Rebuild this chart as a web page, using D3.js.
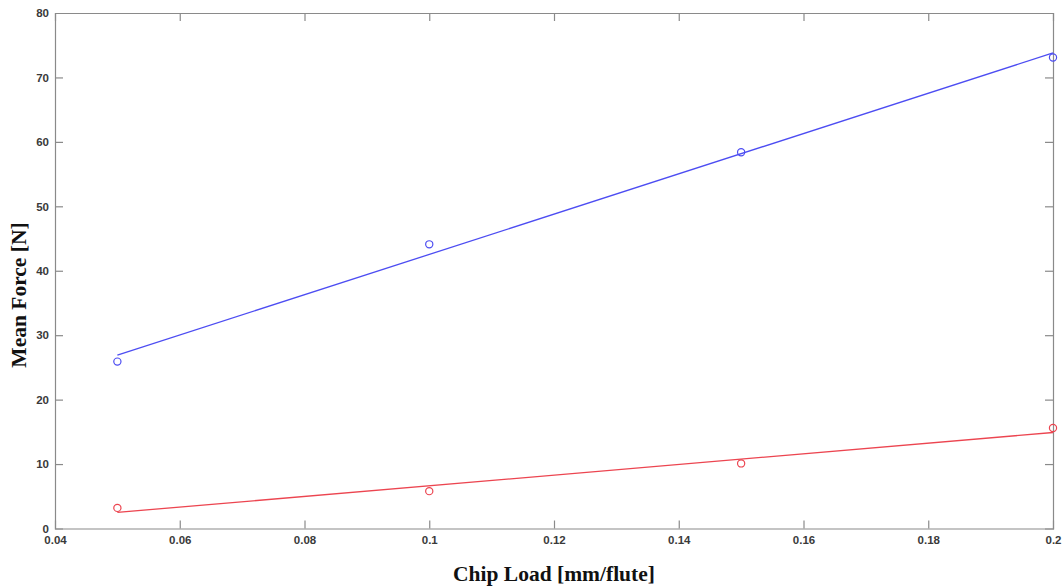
<!DOCTYPE html>
<html>
<head>
<meta charset="utf-8">
<script src="https://cdn.jsdelivr.net/npm/d3@7"></script>
<style>
  html, body { margin: 0; padding: 0; background: #fff; }
  svg { display: block; }
  .tick text { font-family: "Liberation Sans", Arial, sans-serif; font-weight: bold; font-size: 11.5px; fill: #3a3a3a; }
  .title { font-family: "Liberation Serif", "Times New Roman", serif; font-weight: bold; font-size: 21.5px; fill: #111; }
</style>
</head>
<body>
<svg id="chart" width="1063" height="586"></svg>
<script>
// Chip load values (mm/flute)
const chipLoad = [0.05, 0.1, 0.15, 0.2];
// Measured mean force, two force components
const forceBlue = [25.9, 44.1, 58.4, 73.1];
const forceRed = [3.2, 5.8, 10.1, 15.6];
// Linear trend lines (endpoint values at first and last chip load)
const trendX = [0.05, 0.2];
const trendBlue = [26.9, 73.8];
const trendRed = [2.5, 14.9];
// Axis ticks
const xTicks = [0.04, 0.06, 0.08, 0.1, 0.12, 0.14, 0.16, 0.18, 0.2];
const yTicks = [0, 10, 20, 30, 40, 50, 60, 70, 80];

const svg = d3.select("#chart");
const m = { left: 55, right: 10, top: 13, bottom: 57.5 };
const W = 1063, H = 586;
const x = d3.scaleLinear().domain([0.04, 0.2]).range([m.left, W - m.right]);
const y = d3.scaleLinear().domain([0, 80]).range([H - m.bottom, m.top]);

const axisColor = "#8a8a8a";
const tickLen = 8;

// Axes with inward ticks on all four sides
const gx = svg.append("g").attr("transform", `translate(0,${y(0)})`)
  .call(d3.axisBottom(x).tickValues(xTicks).tickSize(-tickLen).tickPadding(5).tickFormat(d => d3.format("~g")(+d.toFixed(2))));
const gxt = svg.append("g").attr("transform", `translate(0,${y(80)})`)
  .call(d3.axisTop(x).tickValues(xTicks).tickSize(-tickLen).tickFormat(""));
const gy = svg.append("g").attr("transform", `translate(${x(0.04)},0)`)
  .call(d3.axisLeft(y).tickValues(yTicks).tickSize(-tickLen).tickPadding(6));
const gyr = svg.append("g").attr("transform", `translate(${x(0.2)},0)`)
  .call(d3.axisRight(y).tickValues(yTicks).tickSize(-tickLen).tickFormat(""));

[gx, gxt, gy, gyr].forEach(g => {
  g.select(".domain").attr("stroke", axisColor).attr("stroke-width", 1.2);
  g.selectAll(".tick line").attr("stroke", axisColor).attr("stroke-width", 1.2);
});
// Hide end ticks that coincide with the box frame
gx.selectAll(".tick line").filter(d => d === 0.04 || d === 0.2).remove();
gxt.selectAll(".tick line").filter(d => d === 0.04 || d === 0.2).remove();
gy.selectAll(".tick line").filter(d => d === 0 || d === 80).remove();
gyr.selectAll(".tick line").filter(d => d === 0 || d === 80).remove();
gx.selectAll(".tick text").attr("dy", "0.9em");

const series = [
  { vals: forceBlue, trend: trendBlue, color: "#4d4df2" },
  { vals: forceRed, trend: trendRed, color: "#ec4550" }
];

const line = d3.line().x(d => x(d[0])).y(d => y(d[1]));
series.forEach(s => {
  svg.append("path")
    .attr("d", line(trendX.map((v, i) => [v, s.trend[i]])))
    .attr("fill", "none").attr("stroke", s.color).attr("stroke-width", 1.3);
  svg.selectAll(null).data(chipLoad.map((v, i) => [v, s.vals[i]])).enter()
    .append("circle")
    .attr("cx", d => x(d[0])).attr("cy", d => y(d[1])).attr("r", 3.6)
    .attr("fill", "none").attr("stroke", s.color).attr("stroke-width", 1.2);
});

svg.append("text").attr("class", "title")
  .attr("x", (x(0.04) + x(0.2)) / 2).attr("y", 581).attr("text-anchor", "middle")
  .text("Chip Load [mm/flute]");
svg.append("text").attr("class", "title")
  .attr("transform", `translate(26,295) rotate(-90)`)
  .attr("text-anchor", "middle")
  .text("Mean Force [N]");
</script>
</body>
</html>
